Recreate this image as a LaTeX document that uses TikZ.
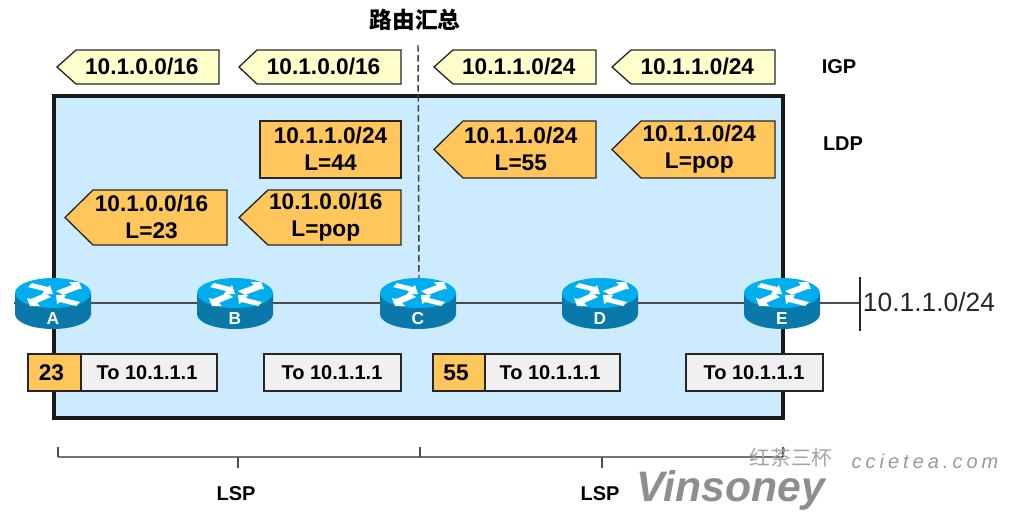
\documentclass[tikz,border=0pt]{standalone}
\usepackage{fontspec}
\setmainfont{Liberation Sans}
\newfontfamily\cjk{Noto Sans CJK SC}
\definecolor{areablue}{HTML}{CCEBFF}
\definecolor{tagorange}{HTML}{FFC65C}
\definecolor{tagyellow}{HTML}{FFFFCC}
\definecolor{cellgrey}{HTML}{F0F0F0}
\definecolor{routertop}{HTML}{00ADEF}
\definecolor{routerside}{HTML}{0A78A8}
\definecolor{markgrey}{HTML}{8E8E8E}
\tikzset{
	tagline/.style={draw=black!85, line width=1pt},
	igptag/.style={tagline, fill=tagyellow},
	ldptag/.style={tagline, fill=tagorange},
	celllabel/.style={font=\fontsize{15}{15}\selectfont\bfseries, text=black},
	taglabel/.style={font=\fontsize{17}{20.5}\selectfont\bfseries, align=center, text=black},
	heading/.style={font=\fontsize{15}{15}\selectfont\bfseries, text=black},
	arrowpart/.style={fill=white, draw=none},
	router/.pic={
		\fill[routerside](-38, -10)--(-38, 11)arc[start angle=180, end angle=0, x radius=38, y radius=15]--(38, -10)--cycle;
		\fill[routertop](0, -10)ellipse[x radius=38, y radius=15];
		\fill[arrowpart](-21, -20)--(-5, -16)--(-3, -18)--(0, -9)--(-11, -9)--(-9, -12)--(-25, -16)--cycle;
		\fill[arrowpart](26, -21)--(29, -14)--(26, -14)--(10, -8)--(3, -12)--(19, -18)--(16, -21)--cycle;
		\fill[arrowpart](-23, 3)--(-26, -5)--(-22, -4)--(-8, -10)--(-2, -6)--(-16, 0)--(-13, 3)--cycle;
		\fill[arrowpart](3, -8)--(13, -8)--(11, -5)--(27, -1)--(23, 3)--(7, -1)--(4, 1)--cycle;
	},
}
% px: x right, y down
\newcommand*{\tagbox}[8]{
	\draw[#1](#3, #5)--(#2, {(#5+#6)/2})--(#3, #6)--(#4, #6)--(#4, #5)--cycle;
	\node[taglabel](#7)at({(#2+#4)/2+(#3-#2)/5}, {(#5+#6)/2-0.5}){#8};
}
\begin{document}
\begin{tikzpicture}[x=0.75pt, y=-0.75pt]
		\useasboundingbox(0, 0)rectangle(1017, 529);
		\coordinate(A)at(53, 303);
		\coordinate(B)at(235, 303);
		\coordinate(C)at(418, 303);
		\coordinate(D)at(600, 303);
		\coordinate(E)at(782, 303);
		\coordinate(stub)at(14, 303);
		\coordinate(net)at(860, 303);
		\coordinate(nettop)at(860, 277);
		\coordinate(netbot)at(860, 331);
		\coordinate(sumtop)at(418, 45);
		\coordinate(sumbot)at(419, 278);

		\draw[fill=areablue, draw=black!90, line width=2.4pt](54, 96)rectangle(783, 418);
		\draw[black!70, line width=1.2pt](stub)--(A)--(B)--(C)--(D)--(E)--(net);
		\draw[black!85, line width=1.1pt](nettop)--(netbot);
		\draw[black!75, line width=1.1pt, dashed, dash pattern=on 5pt off 2.5pt](sumtop)--(sumbot);

		\foreach \r in {A, B, C, D, E}{
			\pic at(\r){router};
			\node[font=\fontsize{13}{13}\selectfont\bfseries, text=white](label\r)at([yshift=-11.5pt]\r){\r};
		}

		\node[heading, font=\cjk\fontsize{17}{17}\selectfont\bfseries](summary)at(415, 20){路由汇总};
		\node[heading](igp)at(839, 67){IGP};
		\node[heading](ldp)at(843, 144){LDP};
		\node[font=\fontsize{19.8}{20}\selectfont, text=black!85](netlabel)at(929, 302){10.1.1.0/24};

		% IGP row
		\tagbox{igptag}{57}{76}{219}{50}{84}{igpa}{10.1.0.0/16}
		\tagbox{igptag}{239}{257}{401}{50}{84}{igpb}{10.1.0.0/16}
		\tagbox{igptag}{434}{453}{596}{50}{84}{igpc}{10.1.1.0/24}
		\tagbox{igptag}{612}{631}{775}{50}{84}{igpd}{10.1.1.0/24}

		% LDP rows
		\tagbox{ldptag}{260}{260}{401}{121}{178}{ldpb}{10.1.1.0/24\\L=44}
		\tagbox{ldptag}{434}{463}{596}{121}{178}{ldpc}{10.1.1.0/24\\L=55}
		\tagbox{ldptag}{612}{641}{775}{121}{178}{ldpd}{10.1.1.0/24\\L=pop}
		\tagbox{ldptag}{65}{93}{227}{190}{245}{suma}{10.1.0.0/16\\L=23}
		\tagbox{ldptag}{239}{268}{401}{190}{245}{sumc}{10.1.0.0/16\\L=pop}

		% packet cells
		\draw[tagline, fill=tagorange](28, 354)rectangle(81, 391);
		\draw[tagline, fill=cellgrey](81, 354)rectangle(217, 391);
		\draw[tagline, fill=cellgrey](264, 354)rectangle(401, 391);
		\draw[tagline, fill=tagorange](433, 354)rectangle(485, 391);
		\draw[tagline, fill=cellgrey](485, 354)rectangle(620, 391);
		\draw[tagline, fill=cellgrey](686, 354)rectangle(823, 391);
		\node[taglabel](laba)at(51.5, 372.5){23};
		\node[taglabel](labc)at(456, 372.5){55};
		\node[celllabel](pkta)at(147, 372.5){To 10.1.1.1};
		\node[celllabel](pktb)at(332, 372.5){To 10.1.1.1};
		\node[celllabel](pktc)at(550, 372.5){To 10.1.1.1};
		\node[celllabel](pktd)at(754, 372.5){To 10.1.1.1};

		% LSP brackets
		\coordinate(la)at(58, 457);
		\coordinate(lb)at(420, 457);
		\coordinate(lc)at(783, 457);
		\coordinate(lam)at(238, 457);
		\coordinate(lcm)at(602, 457);
		\draw[black!55, line width=1.2pt](la)--(lc);
		\foreach \p in {la, lb, lc}{
			\draw[black!70, line width=1pt](\p)--++(0, -10);
		}
		\foreach \p in {lam, lcm}{
			\draw[black!70, line width=1pt](\p)--++(0, 11);
		}
		\node[heading](lspa)at(236, 494){LSP};
		\node[heading](lspb)at(600, 494){LSP};

		% watermark
		\node[font=\cjk\fontsize{15.5}{15.5}\selectfont, text=markgrey!80, inner sep=0pt](markcn)at(791, 458){红茶三杯};
		\node[font=\addfontfeatures{LetterSpace=20}\fontsize{15}{15}\selectfont\itshape, text=markgrey!90, inner sep=0pt](markurl)at(925, 461){ccietea.com};
		\node[font=\fontsize{32}{32}\selectfont\bfseries\itshape, text=markgrey, inner sep=0pt](markname)at(731, 490){Vinsoney};
	\end{tikzpicture}
\end{document}
